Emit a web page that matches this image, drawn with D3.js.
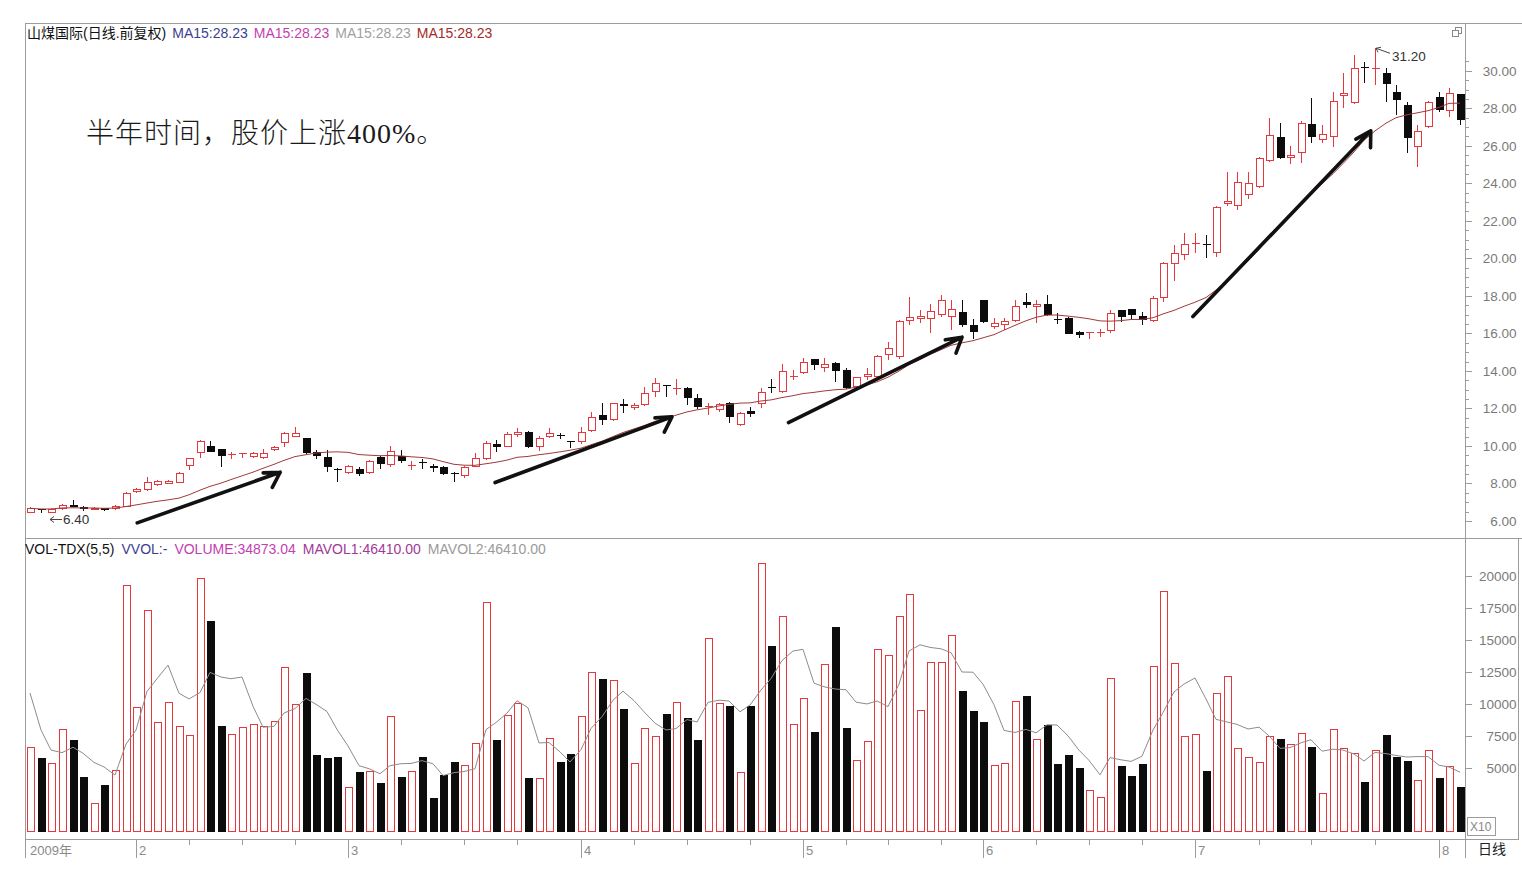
<!DOCTYPE html>
<html>
<head>
<meta charset="utf-8">
<script src="https://cdn.jsdelivr.net/npm/d3@7"></script>
<style>
html, body { margin: 0; padding: 0; background: #fff; }
svg { display: block; }
text { font-family: "Liberation Sans", Arial, "Noto Sans CJK SC", sans-serif; }
</style>
</head>
<body>
<svg id="chart" width="1522" height="878"></svg>
<script>
'use strict';

// daily bars, 2009 (forward adjusted)
var open = [
	6.45, 6.62, 6.45, 6.64, 6.86, 6.73, 6.60, 6.68, 6.62, 6.75,
	7.52, 7.66, 7.90, 7.98, 8.02, 8.93, 9.64, 10.00, 9.82, 9.54,
	9.60, 9.40, 9.35, 9.76, 10.18, 10.50, 10.41, 9.68, 9.43, 8.78,
	8.58, 8.76, 8.55, 9.43, 8.99, 9.46, 8.98, 9.16, 8.93, 8.89,
	8.58, 8.40, 8.90, 9.29, 10.10, 9.97, 10.58, 10.76, 9.94, 10.46,
	10.60, 10.27, 10.23, 10.82, 11.65, 11.40, 12.26, 12.02, 12.21, 12.89,
	13.26, 13.05, 13.07, 12.54, 12.12, 11.92, 12.31, 11.12, 11.88, 12.25,
	13.15, 12.90, 13.72, 13.88, 14.62, 14.15, 14.44, 14.05, 13.13, 13.66,
	13.70, 14.85, 14.76, 16.68, 16.75, 16.75, 16.97, 16.86, 17.16, 16.45,
	17.76, 16.36, 16.45, 16.68, 17.67, 17.40, 17.57, 16.77, 16.81, 16.09,
	16.05, 16.08, 16.14, 17.25, 17.28, 16.93, 16.68, 17.87, 19.70, 20.18,
	20.78, 20.79, 20.27, 22.88, 22.81, 23.38, 23.82, 25.21, 26.49, 25.33,
	25.60, 27.16, 26.31, 26.48, 28.65, 28.30, 30.20, 30.12, 29.90, 28.88,
	28.17, 25.92, 26.99, 28.59, 27.87, 28.76
];
var high = [
	6.75, 6.63, 6.68, 6.90, 7.10, 6.82, 6.72, 6.70, 6.84, 7.55,
	7.76, 8.36, 8.18, 8.20, 8.63, 9.38, 10.32, 10.28, 9.86, 9.69,
	9.63, 9.68, 9.82, 10.00, 10.72, 11.03, 10.45, 9.78, 9.78, 8.80,
	8.98, 8.89, 9.25, 9.47, 10.00, 9.78, 9.21, 9.29, 9.02, 8.93,
	8.59, 8.93, 9.61, 10.28, 10.32, 10.76, 10.94, 10.80, 10.53, 10.94,
	10.71, 10.28, 11.00, 11.83, 12.27, 12.30, 12.50, 12.30, 13.16, 13.61,
	13.27, 13.55, 13.16, 12.77, 12.31, 12.31, 12.36, 11.80, 12.09, 13.07,
	13.55, 14.37, 14.05, 14.67, 14.66, 14.67, 14.48, 14.14, 13.70, 14.14,
	14.85, 15.56, 16.72, 17.96, 17.25, 17.57, 18.05, 17.78, 17.78, 16.75,
	17.78, 16.80, 16.80, 17.78, 18.17, 17.78, 18.05, 17.07, 16.85, 16.14,
	16.08, 16.22, 17.25, 17.27, 17.30, 17.16, 17.99, 19.82, 20.71, 21.37,
	21.37, 21.25, 22.78, 24.62, 24.62, 24.62, 25.42, 27.47, 27.23, 26.00,
	27.34, 28.53, 27.11, 28.89, 29.86, 30.84, 30.48, 31.20, 30.13, 29.24,
	28.35, 27.11, 28.40, 28.88, 29.07, 28.78
];
var low = [
	6.42, 6.43, 6.40, 6.60, 6.72, 6.55, 6.57, 6.52, 6.60, 6.72,
	7.48, 7.62, 7.85, 7.95, 8.00, 8.72, 9.34, 9.66, 8.90, 9.30,
	9.35, 9.36, 9.29, 9.72, 9.96, 10.46, 9.58, 9.30, 8.63, 8.10,
	8.52, 8.40, 8.50, 8.76, 8.89, 9.11, 8.72, 8.76, 8.63, 8.47,
	8.10, 8.28, 8.86, 9.25, 9.69, 9.92, 10.49, 9.90, 9.75, 10.41,
	10.35, 9.88, 10.10, 10.76, 11.12, 11.35, 11.78, 11.90, 12.15, 12.63,
	12.63, 12.72, 12.20, 11.98, 11.65, 11.83, 11.24, 11.08, 11.53, 12.01,
	12.81, 12.81, 13.52, 13.84, 14.05, 13.96, 13.43, 13.03, 13.10, 13.52,
	13.65, 14.58, 14.64, 16.45, 16.54, 16.00, 16.89, 16.18, 16.35, 15.69,
	16.54, 16.22, 16.18, 16.62, 17.33, 16.54, 16.95, 16.50, 15.95, 15.74,
	15.69, 15.82, 16.04, 16.62, 16.75, 16.45, 16.62, 17.69, 18.81, 19.91,
	20.27, 20.00, 20.09, 22.79, 22.58, 23.15, 23.75, 25.15, 25.28, 25.03,
	25.07, 26.13, 26.13, 25.95, 28.00, 28.25, 29.36, 29.24, 28.35, 27.65,
	25.60, 24.86, 26.95, 27.80, 27.52, 27.11
];
var close = [
	6.68, 6.60, 6.64, 6.86, 6.75, 6.63, 6.69, 6.56, 6.80, 7.51,
	7.69, 8.09, 8.13, 8.14, 8.54, 9.34, 10.28, 9.70, 9.46, 9.57,
	9.62, 9.64, 9.64, 9.96, 10.67, 10.71, 9.62, 9.44, 8.89, 8.76,
	8.93, 8.51, 9.21, 9.04, 9.75, 9.22, 9.00, 9.08, 8.82, 8.51,
	8.56, 8.89, 9.34, 10.17, 9.94, 10.64, 10.76, 9.93, 10.41, 10.71,
	10.56, 10.25, 10.76, 11.53, 11.36, 12.27, 12.14, 12.20, 12.84, 13.34,
	13.24, 13.08, 12.54, 12.06, 12.14, 12.24, 11.53, 11.77, 11.70, 12.89,
	13.11, 14.01, 13.74, 14.49, 14.32, 14.37, 14.02, 13.07, 13.66, 13.82,
	14.80, 15.21, 16.68, 16.86, 16.93, 17.21, 17.78, 17.28, 16.45, 16.09,
	16.62, 16.57, 16.68, 17.46, 17.50, 17.57, 16.98, 16.74, 15.97, 15.93,
	16.07, 16.10, 17.07, 16.89, 16.97, 16.72, 17.87, 19.74, 20.30, 20.77,
	20.81, 20.75, 22.75, 23.06, 24.09, 24.03, 25.33, 26.58, 25.33, 25.51,
	27.20, 26.48, 26.63, 28.40, 28.83, 30.13, 30.16, 30.14, 29.29, 28.44,
	26.40, 26.81, 28.35, 27.91, 28.80, 27.38
];
// volume (x10 lots)
var volume = [
	6670, 5810, 5420, 8020, 7190, 4320, 2240, 3650, 4840, 19300,
	9790, 17340, 8620, 10130, 8310, 7580, 19820, 16510, 8310, 7660,
	8230, 8410, 8310, 8650, 12870, 9970, 12400, 5990, 5810, 5890,
	3540, 4690, 4790, 3850, 9040, 4320, 4770, 5890, 2630, 4450,
	5440, 5210, 6980, 17940, 7190, 9120, 10050, 4220, 4220, 7340,
	5470, 6090, 9060, 12500, 11950, 11880, 9610, 5390, 8130, 7500,
	9220, 10160, 8900, 7190, 15160, 10080, 9840, 4690, 9840, 21020,
	14530, 16880, 8440, 10470, 7810, 13130, 16020, 8130, 5630, 7110,
	14300, 13830, 16880, 18590, 9530, 13280, 13280, 15390, 11020, 9450,
	8590, 5230, 5390, 10230, 10630, 7270, 8360, 5310, 6020, 5000,
	3280, 2730, 12030, 5160, 4380, 5310, 12970, 18830, 13200, 7500,
	7660, 4770, 10860, 12190, 6560, 5860, 5470, 7500, 7270, 6880,
	7730, 6640, 3050, 8050, 6560, 6170, 3900, 6400, 7580, 5860,
	5550, 4060, 6400, 4220, 5160, 3520
];
// the four sessions before the first bar, only needed to seed MAVOL
var volumeBefore = [20260, 13270, 9020, 5080];

var priceTicks = [6, 8, 10, 12, 14, 16, 18, 20, 22, 24, 26, 28, 30];
var volumeTicks = [5000, 7500, 10000, 12500, 15000, 17500, 20000];
var monthIndex = [0, 10, 30, 52, 73, 90, 110, 133];
var monthLabels = ['2009年', '2', '3', '4', '5', '6', '7', '8'];
var weekIndex = [15, 20, 25, 35, 41, 46, 57, 62, 68, 77, 81, 86, 95, 100, 105, 116, 121, 127];

var priceTitle = ['山煤国际(日线.前复权)', 'MA15:28.23', 'MA15:28.23', 'MA15:28.23', 'MA15:28.23'];
var priceTitleColors = ['#111', '#3b3f8f', '#c23fb0', '#a0a0a0', '#a52a2a'];
var volTitle = ['VOL-TDX(5,5)', 'VVOL:-', 'VOLUME:34873.04', 'MAVOL1:46410.00', 'MAVOL2:46410.00'];
var volTitleColors = ['#111', '#3b3f8f', '#c23fb0', '#a03a98', '#9a9a9a'];

// hand drawn arrows: [bar, price] -> [bar, price]
var arrows = [
	[10.1, 5.9, 23.6, 8.6],
	[43.9, 8.05, 60.6, 11.55],
	[71.6, 11.25, 88.0, 15.8],
	[109.8, 16.9, 126.6, 26.8]
];
var note = ['半年时间，股价上涨', '400%', '。'];

var RED = '#e2383e';
var BLACK = '#0c0c0c';
var GRID = '#9c9c9c';
var SANS = '"Liberation Sans", Arial, "Noto Sans CJK SC", sans-serif';

var svg = d3.select('#chart');
var n = close.length;

var L = 25, R = 1465.5, T = 23.5, PB = 538.5, VB = 838.5, XB = 858;

var x = d3.scaleBand().domain(d3.range(n)).range([L, 1465]);
function cx(i) {
	return Math.round(x(i) + x.bandwidth() / 2);
}
function fx(v) {
	return L + (v + 0.5) * x.step();
}
var yP = d3.scaleLinear().domain([6, 30]).range([521, 70.8]);
var yV = d3.scaleLinear().domain([0, 20000]).range([832, 576]);

/**
 * Simple moving average, the way the terminal draws it.
 */
function movingAverage(values, period, before) {
	var all = (before || []).concat(values);
	var offset = all.length - values.length;
	return values.map(function(v, i) {
		var k = i + offset;
		var from = Math.max(0, k - period + 1);
		return d3.mean(all.slice(from, k + 1));
	});
}

var ma15 = movingAverage(close, 15);
var mavol = movingAverage(volume, 5, volumeBefore);

// frame
var frame = svg.append('g')
	.attr('stroke', GRID)
	.attr('stroke-width', 1)
	.attr('shape-rendering', 'crispEdges');
frame.append('line').attr('x1', L).attr('x2', 1522).attr('y1', T).attr('y2', T);
frame.append('line').attr('x1', L + 0.5).attr('x2', L + 0.5).attr('y1', T).attr('y2', XB);
frame.append('line').attr('x1', L).attr('x2', 1522).attr('y1', PB).attr('y2', PB);
frame.append('line').attr('x1', L).attr('x2', 1518.5).attr('y1', VB + 1).attr('y2', VB + 1);
frame.append('line').attr('x1', R).attr('x2', R).attr('y1', T).attr('y2', XB);
frame.append('line').attr('x1', 1518.5).attr('x2', 1518.5).attr('y1', PB).attr('y2', VB + 1);
frame.append('rect')
	.attr('x', 1467.5).attr('y', 817.5).attr('width', 28).attr('height', 18)
	.attr('fill', 'none');

// restore icon
var icon = svg.append('g').attr('stroke', '#8a8a8a').attr('fill', '#fff')
	.attr('shape-rendering', 'crispEdges');
icon.append('rect').attr('x', 1455.5).attr('y', 27.5).attr('width', 6).attr('height', 6);
icon.append('rect').attr('x', 1452.5).attr('y', 30.5).attr('width', 6).attr('height', 6);

// titles
function titleRow(texts, colors, x0, y0, gap) {
	var pos = x0;
	texts.forEach(function(t, k) {
		var node = svg.append('text')
			.attr('x', pos)
			.attr('y', y0)
			.attr('font-size', 14)
			.attr('fill', colors[k])
			.text(t);
		pos += node.node().getComputedTextLength() + gap;
	});
}
titleRow(priceTitle, priceTitleColors, 27, 38, 6);
titleRow(volTitle, volTitleColors, 25, 554, 7);

// price axis
var pAxis = svg.append('g')
	.attr('transform', 'translate(' + R + ',0)')
	.call(d3.axisRight(yP).tickValues(priceTicks).tickFormat(d3.format('.2f'))
		.tickSize(6).tickPadding(8));
var pMinor = svg.append('g')
	.attr('transform', 'translate(' + R + ',0)')
	.call(d3.axisRight(yP).tickValues(d3.range(6, 31, 0.5)).tickFormat('').tickSize(3));

var vAxis = svg.append('g')
	.attr('transform', 'translate(' + R + ',0)')
	.call(d3.axisRight(yV).tickValues(volumeTicks).tickFormat(d3.format('d'))
		.tickSize(6).tickPadding(8));

[pAxis, pMinor, vAxis].forEach(function(a) {
	a.select('.domain').remove();
	a.selectAll('line').attr('stroke', GRID).attr('shape-rendering', 'crispEdges');
	a.selectAll('text')
		.attr('x', 51)
		.attr('text-anchor', 'end')
		.attr('font-size', 13.5)
		.attr('fill', '#7a7a7a')
		.style('font-family', SANS);
});

svg.append('text')
	.attr('x', 1470).attr('y', 831)
	.attr('font-size', 12).attr('fill', '#888')
	.text('X10');
svg.append('text')
	.attr('x', 1478).attr('y', 854)
	.attr('font-size', 14).attr('fill', '#222')
	.style('font-family', '"Noto Sans CJK SC", sans-serif')
	.text('日线');

// time axis
var xAxis = svg.append('g').attr('stroke', GRID).attr('shape-rendering', 'crispEdges');
xAxis.selectAll('line.week').data(weekIndex).join('line')
	.attr('x1', function(d) { return cx(d) + 0.5; })
	.attr('x2', function(d) { return cx(d) + 0.5; })
	.attr('y1', VB + 1).attr('y2', VB + 6);
xAxis.selectAll('line.month').data(monthIndex.slice(1)).join('line')
	.attr('x1', function(d) { return cx(d) + 0.5; })
	.attr('x2', function(d) { return cx(d) + 0.5; })
	.attr('y1', VB + 1).attr('y2', XB);
svg.append('g').selectAll('text').data(monthIndex).join('text')
	.attr('x', function(d, k) { return k === 0 ? L + 5 : cx(d) + 3; })
	.attr('y', 855)
	.attr('font-size', 13)
	.attr('fill', '#8a8a8a')
	.style('font-family', '"Liberation Sans Narrow", "Liberation Sans", "Noto Sans CJK SC", sans-serif')
	.text(function(d, k) { return monthLabels[k]; });

// candles
var gCandle = svg.append('g').attr('shape-rendering', 'crispEdges');
var bars = gCandle.selectAll('g').data(d3.range(n)).join('g');

bars.each(function(i) {
	var g = d3.select(this);
	var c = cx(i) + 0.5;
	var up = close[i] >= open[i];
	var top = Math.round(yP(Math.max(open[i], close[i])));
	var bot = Math.round(yP(Math.min(open[i], close[i])));
	var color = up ? RED : BLACK;
	g.append('line')
		.attr('x1', c).attr('x2', c)
		.attr('y1', yP(high[i])).attr('y2', top)
		.attr('stroke', color);
	g.append('line')
		.attr('x1', c).attr('x2', c)
		.attr('y1', bot).attr('y2', yP(low[i]))
		.attr('stroke', color);
	if(bot - top < 2) {
		g.append('line')
			.attr('x1', c - 4).attr('x2', c + 4)
			.attr('y1', top + 0.5).attr('y2', top + 0.5)
			.attr('stroke', color);
	}
	else if(up) {
		g.append('rect')
			.attr('x', c - 3.5).attr('y', top + 0.5)
			.attr('width', 7).attr('height', bot - top - 1)
			.attr('fill', '#fff').attr('stroke', color);
	}
	else {
		g.append('rect')
			.attr('x', c - 4).attr('y', top)
			.attr('width', 8).attr('height', bot - top)
			.attr('fill', color);
	}
});

svg.append('path')
	.datum(ma15)
	.attr('fill', 'none')
	.attr('stroke', '#a03a3a')
	.attr('stroke-width', 1)
	.attr('d', d3.line()
		.x(function(d, i) { return cx(i); })
		.y(function(d) { return yP(d); }));

// volume
svg.append('g').attr('shape-rendering', 'crispEdges')
	.selectAll('rect').data(d3.range(n)).join('rect')
	.each(function(i) {
		var up = close[i] >= open[i];
		var c = cx(i) + 0.5;
		var top = Math.round(yV(volume[i]));
		if(up) {
			d3.select(this)
				.attr('x', c - 3.5).attr('y', top + 0.5)
				.attr('width', 7).attr('height', 832 - top - 1)
				.attr('fill', '#fff').attr('stroke', RED);
		}
		else {
			d3.select(this)
				.attr('x', c - 4).attr('y', top)
				.attr('width', 8).attr('height', 832 - top)
				.attr('fill', BLACK);
		}
	});

svg.append('path')
	.datum(mavol)
	.attr('fill', 'none')
	.attr('stroke', '#8c8c8c')
	.attr('stroke-width', 1)
	.attr('d', d3.line()
		.x(function(d, i) { return cx(i); })
		.y(function(d) { return yV(d); }));

// extreme labels
var lo = d3.minIndex(low), hi = d3.maxIndex(high);
var lx = cx(lo) - 1, ly = yP(low[lo]) + 6;
svg.append('path')
	.attr('d', 'M' + lx + ',' + ly + 'H' + (lx + 12)
		+ 'M' + (lx + 4) + ',' + (ly - 3) + 'L' + lx + ',' + ly + 'L' + (lx + 4) + ',' + (ly + 3))
	.attr('stroke', '#444').attr('fill', 'none');
svg.append('text')
	.attr('x', lx + 13).attr('y', ly + 5)
	.attr('font-size', 13.5).attr('fill', '#333')
	.text(low[lo].toFixed(2));
var hx = cx(hi) + 1, hy = yP(high[hi]);
svg.append('path')
	.attr('d', 'M' + hx + ',' + hy + 'L' + (hx + 14) + ',' + (hy + 5)
		+ 'M' + hx + ',' + hy + 'L' + (hx + 5) + ',' + (hy - 1)
		+ 'M' + hx + ',' + hy + 'L' + (hx + 2) + ',' + (hy + 4))
	.attr('stroke', '#444').attr('fill', 'none');
svg.append('text')
	.attr('x', hx + 16).attr('y', hy + 13)
	.attr('font-size', 13.5).attr('fill', '#333')
	.text(high[hi].toFixed(2));

// annotation arrows
var gArrow = svg.append('g')
	.attr('stroke', '#111')
	.attr('stroke-width', 3.6)
	.attr('stroke-linecap', 'round')
	.attr('stroke-linejoin', 'round')
	.attr('fill', 'none');
arrows.forEach(function(a) {
	var x0 = fx(a[0]), y0 = yP(a[1]), x1 = fx(a[2]), y1 = yP(a[3]);
	var ang = Math.atan2(y0 - y1, x0 - x1);
	var len = 17;
	var b1 = [x1 + len * Math.cos(ang + 0.3), y1 + len * Math.sin(ang + 0.3)];
	var b2 = [x1 + len * Math.cos(ang - 0.75), y1 + len * Math.sin(ang - 0.75)];
	gArrow.append('path')
		.attr('d', 'M' + x0 + ',' + y0 + 'L' + x1 + ',' + y1
			+ 'M' + b1[0] + ',' + b1[1] + 'L' + x1 + ',' + y1 + 'L' + b2[0] + ',' + b2[1]);
});

var noteText = svg.append('text')
	.attr('x', 86).attr('y', 143)
	.attr('font-size', 28)
	.attr('letter-spacing', 1)
	.attr('fill', '#1a1a1a')
	.style('font-family', '"Noto Sans CJK SC", serif')
	.style('font-weight', 300);
note.forEach(function(t, k) {
	noteText.append('tspan')
		.style('font-family', k === 1 ? '"Liberation Serif", "Times New Roman", serif' : null)
		.style('font-weight', k === 1 ? 400 : null)
		.text(t);
});
</script>
</body>
</html>
